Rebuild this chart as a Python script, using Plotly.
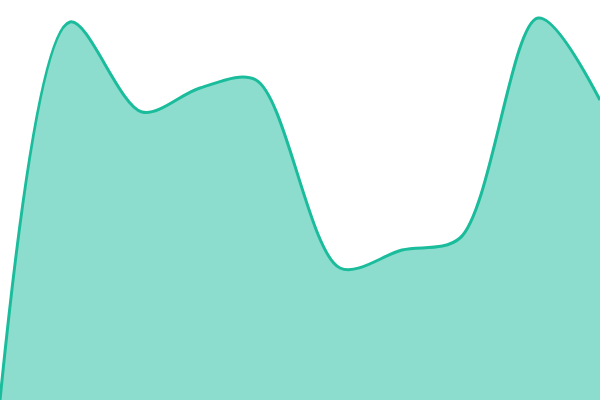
import plotly.graph_objects as go

# sample positions and values
x_vals = [0, 70, 142, 200, 256, 340, 402, 460, 538, 600]
y_vals = [0, 378, 288, 312, 320, 132, 150, 162, 382, 300]

fig = go.Figure()
fig.add_trace(
    go.Scatter(
        x=x_vals,
        y=y_vals,
        mode="lines",
        line=dict(color="#1abc9c", width=3, shape="spline", smoothing=0.9),
        fill="tozeroy",
        fillcolor="rgba(26,188,156,0.5)",
        hoverinfo="skip",
    )
)
fig.update_layout(
    width=600,
    height=400,
    margin=dict(l=0, r=0, t=0, b=0),
    paper_bgcolor="white",
    plot_bgcolor="white",
    showlegend=False,
)
fig.update_xaxes(visible=False, range=[0, 600])
fig.update_yaxes(visible=False, range=[0, 400])

# drop the page's default body margin so the chart sits flush in the window
fig.write_html(
    "out.html",
    config={"displayModeBar": False},
    post_script="document.body.style.margin='0';",
)
